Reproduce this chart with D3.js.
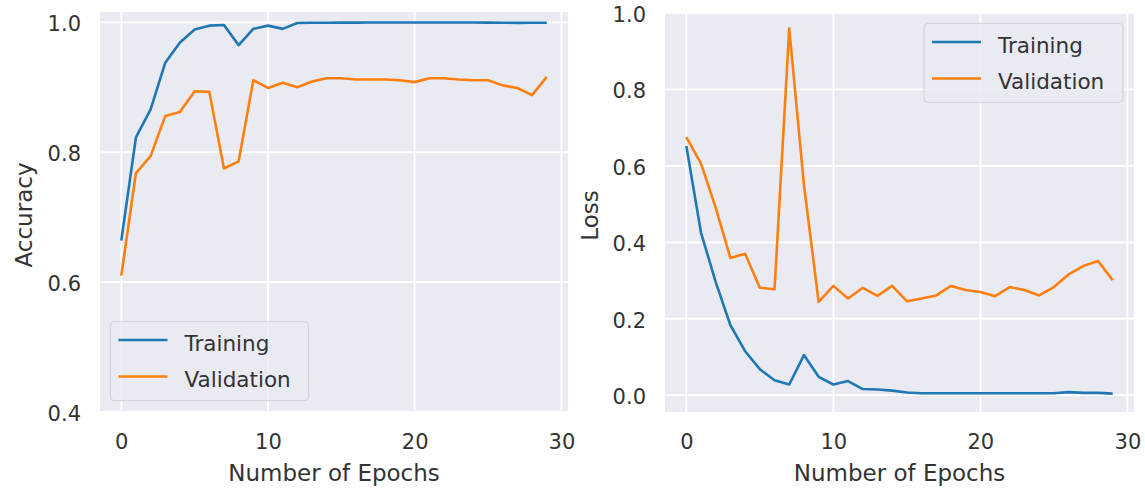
<!DOCTYPE html>
<html>
<head>
<meta charset="utf-8">
<script src="https://cdn.jsdelivr.net/npm/d3@7"></script>
<style>
	body { margin: 0; background: #fff; }
	svg text { font-family: "DejaVu Sans", sans-serif; fill: #333; }
</style>
</head>
<body>
<svg id="chart"></svg>
<script>
const epochs = d3.range(30);
const trainAcc = [0.664, 0.823, 0.866, 0.938, 0.969, 0.989, 0.995, 0.996, 0.965, 0.990,
	0.995, 0.990, 0.999, 0.9995, 0.9995, 0.9997, 0.9997, 0.9998, 0.9998, 0.9998,
	0.9998, 0.9998, 0.9998, 0.9998, 0.9998, 0.9997, 0.9995, 0.9993, 0.9995, 0.9995];
const valAcc = [0.610, 0.768, 0.794, 0.856, 0.862, 0.894, 0.893, 0.775, 0.786, 0.911,
	0.899, 0.907, 0.900, 0.909, 0.914, 0.914, 0.912, 0.912, 0.912, 0.911,
	0.908, 0.914, 0.914, 0.912, 0.911, 0.911, 0.903, 0.899, 0.888, 0.916];
const trainLoss = [0.652, 0.425, 0.296, 0.183, 0.115, 0.068, 0.039, 0.028, 0.105, 0.048,
	0.028, 0.037, 0.016, 0.015, 0.012, 0.007, 0.005, 0.005, 0.005, 0.005,
	0.005, 0.005, 0.005, 0.005, 0.005, 0.005, 0.008, 0.006, 0.006, 0.004];
const valLoss = [0.675, 0.606, 0.490, 0.359, 0.370, 0.281, 0.277, 0.959, 0.550, 0.244,
	0.286, 0.253, 0.281, 0.260, 0.286, 0.246, 0.253, 0.261, 0.286, 0.275,
	0.270, 0.259, 0.283, 0.275, 0.261, 0.283, 0.316, 0.338, 0.351, 0.301];
const xTicks = [0, 10, 20, 30];
const accTicks = [0.4, 0.6, 0.8, 1.0];
const lossTicks = [0.0, 0.2, 0.4, 0.6, 0.8, 1.0];
const seriesNames = ["Training", "Validation"];
const colors = ["#1f77b4", "#ff7f0e"];

const width = 1145;
const height = 490;
const svg = d3.select("#chart")
	.attr("width", width)
	.attr("height", height);

function drawPanel(p) {
	const x = d3.scaleLinear().domain([-1.45, 30.45]).range([p.left, p.right]);
	const y = d3.scaleLinear().domain(p.yDomain).range([p.bottom, p.top]);
	const g = svg.append("g");

	g.append("rect")
		.attr("x", p.left).attr("y", p.top)
		.attr("width", p.right - p.left).attr("height", p.bottom - p.top)
		.attr("fill", "#eaeaf2");

	// gridlines
	g.selectAll(".vgrid").data(xTicks).enter().append("line")
		.attr("x1", x).attr("x2", x)
		.attr("y1", p.top).attr("y2", p.bottom)
		.attr("stroke", "#fff").attr("stroke-width", 1.8);
	g.selectAll(".hgrid").data(p.yTicks).enter().append("line")
		.attr("x1", p.left).attr("x2", p.right)
		.attr("y1", y).attr("y2", y)
		.attr("stroke", "#fff").attr("stroke-width", 1.8);

	// axes without domain line, as in seaborn darkgrid
	const xAxis = g.append("g")
		.attr("transform", `translate(0,${p.bottom})`)
		.call(d3.axisBottom(x).tickValues(xTicks).tickFormat(d3.format("d")).tickSize(0).tickPadding(22));
	const yAxis = g.append("g")
		.attr("transform", `translate(${p.left},0)`)
		.call(d3.axisLeft(y).tickValues(p.yTicks).tickFormat(d3.format(".1f")).tickSize(0).tickPadding(p.left - p.tickRight));
	[xAxis, yAxis].forEach((a) => {
		a.select(".domain").remove();
		a.selectAll("text").style("font-size", "21px").attr("fill", "#333");
	});
	yAxis.selectAll("text").attr("dy", "0.4em");
	xAxis.selectAll("text").attr("dy", "0.71em");

	const line = d3.line()
		.x((d, i) => x(epochs[i]))
		.y((d) => y(d));
	p.series.forEach((s, k) => {
		g.append("path")
			.datum(s)
			.attr("d", line)
			.attr("fill", "none")
			.attr("stroke", colors[k])
			.attr("stroke-width", 2.6)
			.attr("stroke-linejoin", "round");
	});

	g.append("text")
		.attr("x", (p.left + p.right) / 2)
		.attr("y", 481)
		.attr("text-anchor", "middle")
		.style("font-size", "23px")
		.text("Number of Epochs");
	g.append("text")
		.attr("transform", `translate(${p.labelX},${(p.top + p.bottom) / 2 + 3}) rotate(-90)`)
		.attr("text-anchor", "middle")
		.style("font-size", "23px")
		.text(p.yLabel);

	// legend
	const lg = g.append("g").attr("transform", `translate(${p.legend.x},${p.legend.y})`);
	lg.append("rect")
		.attr("width", p.legend.w).attr("height", 79)
		.attr("rx", 4)
		.attr("fill", "#eaeaf2").attr("fill-opacity", 0.8)
		.attr("stroke", "#d4d4dc").attr("stroke-width", 1.2);
	seriesNames.forEach((name, k) => {
		const cy = 18.5 + k * 36.5;
		lg.append("line")
			.attr("x1", 8).attr("x2", 57)
			.attr("y1", cy).attr("y2", cy)
			.attr("stroke", colors[k]).attr("stroke-width", 2.6);
		lg.append("text")
			.attr("x", 74).attr("y", cy + 10.5)
			.style("font-size", "21.5px")
			.text(name);
	});
}

drawPanel({
	left: 100, right: 568, top: 12, bottom: 412,
	yDomain: [0.4, 1.016], yTicks: accTicks, tickRight: 81,
	series: [trainAcc, valAcc], yLabel: "Accuracy", labelX: 32,
	legend: { x: 110.5, y: 321.5, w: 198 }
});
drawPanel({
	left: 665, right: 1134, top: 13, bottom: 412,
	yDomain: [-0.044, 1.0], yTicks: lossTicks, tickRight: 646,
	series: [trainLoss, valLoss], yLabel: "Loss", labelX: 598,
	legend: { x: 924, y: 23.5, w: 199 }
});
</script>
</body>
</html>
